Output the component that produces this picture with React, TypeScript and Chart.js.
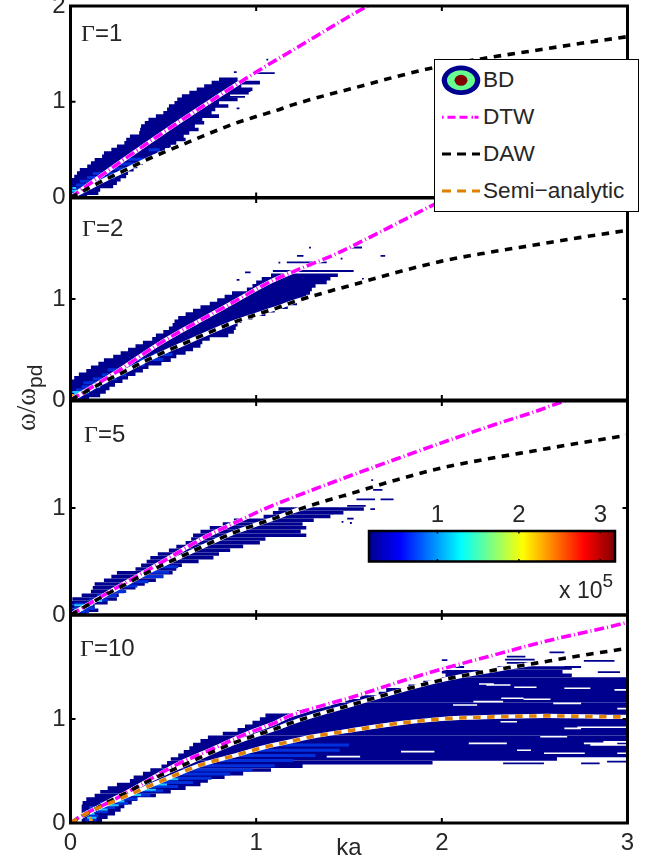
import React, { useEffect, useRef } from "react";
import { Chart, registerables } from "chart.js";

Chart.register(...registerables);

const NAVY = "#00008f";
const MID = "#0030dc";
const CYAN = "#19c8ff";
const HOT = "#ff9a00";
const MAGENTA = "#ff00ff";
const ORANGE = "#e08000";
const INK = "#262626";
const SANS = "'Liberation Sans', Arial, sans-serif";
const SERIF = "'Liberation Serif', 'DejaVu Serif', serif";

// Curves
const dawKa = [0, 0.1, 0.2, 0.3, 0.4, 0.52, 0.6, 0.716, 0.8, 0.88, 1, 1.11, 1.2, 1.4, 1.5, 1.75, 2, 2.25, 2.5, 2.75, 3];
const dawW = [0, 0.1, 0.2, 0.29, 0.385, 0.487, 0.55, 0.644, 0.71, 0.77, 0.845, 0.91, 0.97, 1.08, 1.13, 1.26, 1.375, 1.46, 1.535, 1.61, 1.68];
const dtw1Ka = [0, 0.25, 0.5, 0.75, 1, 1.25, 1.5, 1.6, 1.66];
const dtw1W = [0, 0.345, 0.68, 1.0, 1.31, 1.6, 1.89, 2.0, 2.06];
const dtw2Ka = [0, 0.25, 0.48, 0.7, 0.878, 1.058, 1.237, 1.417, 1.6, 1.76, 1.975, 2.1];
const dtw2W = [0, 0.28, 0.56, 0.79, 0.97, 1.155, 1.3, 1.436, 1.6, 1.75, 1.95, 2.05];
const dtw3Ka = [0, 0.213, 0.483, 0.716, 0.896, 1.057, 1.237, 1.435, 1.615, 1.79, 1.87, 2.25, 2.5, 2.66, 2.75];
const dtw3W = [0, 0.22, 0.485, 0.72, 0.872, 1.0, 1.125, 1.255, 1.37, 1.48, 1.53, 1.76, 1.9, 2.0, 2.05];
const dtw4Ka = [0, 0.05, 0.23, 0.39, 0.57, 0.75, 0.93, 1.11, 1.18, 1.3, 1.506, 1.776, 2, 2.28, 2.565, 2.98, 3];
const dtw4W = [0, 0.06, 0.22, 0.38, 0.56, 0.7, 0.845, 0.97, 1.03, 1.1, 1.205, 1.36, 1.48, 1.615, 1.75, 1.92, 1.93];
const semiKa = [0, 0.105, 0.23, 0.384, 0.536, 0.7, 0.88, 1.04, 1.18, 1.3, 1.5, 1.776, 2, 2.28, 2.565, 2.98, 3];
const semiW = [0, 0.11, 0.205, 0.324, 0.44, 0.558, 0.647, 0.727, 0.782, 0.83, 0.887, 0.96, 1.0, 1.02, 1.03, 1.02, 1.02];

// BD intensity rows, panel Γ=1
const p1Levels = [0.01, 0.045, 0.08, 0.115, 0.15, 0.185, 0.22, 0.255, 0.29, 0.325, 0.36, 0.395, 0.43, 0.465, 0.5, 0.535, 0.57, 0.605, 0.64, 0.675, 0.71, 0.745, 0.78, 0.815, 0.85, 0.885, 0.92, 0.955, 0.99, 1.025, 1.06, 1.095, 1.13, 1.165, 1.2, 1.235];
const p1Left = [0, 0, 0, 0, 0, 0.005, 0.02, 0.035, 0.05, 0.09, 0.11, 0.13, 0.17, 0.18, 0.22, 0.25, 0.29, 0.3, 0.32, 0.37, 0.375, 0.38, 0.4, 0.42, 0.46, 0.5, 0.52, 0.53, 0.56, 0.575, 0.6, 0.64, 0.68, 0.72, 0.76, 0.8];
const p1Right = [0.09, 0.15, 0.16, 0.23, 0.25, 0.27, 0.3, 0.31, 0.34, 0.36, 0.39, 0.4, 0.44, 0.47, 0.51, 0.54, 0.57, 0.62, 0.61, 0.64, 0.69, 0.67, 0.72, 0.71, 0.8, 0.76, 0.78, 0.85, 0.8, 0.9, 0.86, 0.96, 0.98, 0.92, 1.02, 0.9];
const p1Extra = [[1.31, 0.88, 0.895], [1.3, 0.985, 1.1], [1.44, 1.055, 1.065], [0.93, 0.895, 0.91], [1.197, 0.97, 1.02], [1.11, 0.88, 0.97], [1.05, 0.84, 0.94]];
const p1Mid = [[0.05, 0.01, 0.07], [0.09, 0.02, 0.09], [0.13, 0.03, 0.13], [0.17, 0.05, 0.16], [0.21, 0.09, 0.24], [0.25, 0.12, 0.27], [0.3, 0.2, 0.3], [0.35, 0.25, 0.35], [0.4, 0.3, 0.4], [0.5, 0.42, 0.48]];
const p1Cyan = [[0.04, 0.005, 0.04], [0.07, 0.005, 0.05], [0.1, 0.01, 0.03]];
const p1Hot = [[0.025, 0.005, 0.03]];

// Panel Γ=2
const p2Levels = p1Levels;
const p2Left = [0, 0, 0, 0, 0, 0.005, 0.02, 0.045, 0.085, 0.11, 0.15, 0.18, 0.23, 0.27, 0.31, 0.35, 0.39, 0.44, 0.46, 0.5, 0.53, 0.55, 0.56, 0.58, 0.62, 0.66, 0.7, 0.75, 0.79, 0.83, 0.87, 0.95, 0.98, 1.0, 1.03, 1.08];
const p2Right = [0.1, 0.16, 0.19, 0.21, 0.24, 0.28, 0.31, 0.35, 0.39, 0.42, 0.49, 0.54, 0.57, 0.62, 0.66, 0.7, 0.71, 0.75, 0.85, 0.88, 0.89, 0.9, 0.92, 0.98, 1.05, 1.1, 1.17, 1.22, 1.24, 1.27, 1.29, 1.3, 1.32, 1.38, 1.4, 1.44];
const p2Extra = [[1.277, 1.09, 1.525], [1.363, 1.165, 1.38], [1.426, 1.22, 1.255], [1.51, 1.49, 1.57], [1.426, 1.67, 1.695], [1.508, 1.285, 1.295], [1.2, 1.57, 1.58], [1.19, 0.895, 0.91], [1.264, 0.94, 0.97], [1.36, 1.12, 1.13], [1.4, 1.455, 1.465]];
const p2Mid = [[0.03, 0.01, 0.06], [0.07, 0.02, 0.1], [0.1, 0.03, 0.12], [0.13, 0.06, 0.16], [0.17, 0.07, 0.2], [0.21, 0.12, 0.25], [0.25, 0.17, 0.3], [0.3, 0.2, 0.33], [0.35, 0.3, 0.4], [0.4, 0.36, 0.5], [0.45, 0.45, 0.55]];
const p2Cyan = [[0.08, 0.01, 0.1], [0.13, 0.1, 0.16], [0.06, 0.02, 0.07]];
const p2Hot = [[0.03, 0.005, 0.03], [0.05, 0.005, 0.02]];

// Panel Γ=5
const p3Levels = [0.01, 0.045, 0.08, 0.115, 0.15, 0.185, 0.22, 0.255, 0.29, 0.325, 0.36, 0.395, 0.43, 0.465, 0.5, 0.535, 0.57, 0.605, 0.64, 0.675, 0.71, 0.745, 0.78, 0.815, 0.85, 0.885, 0.92, 0.955, 0.99];
const p3Left = [0, 0, 0, 0, 0.01, 0.06, 0.11, 0.12, 0.13, 0.18, 0.22, 0.25, 0.35, 0.38, 0.41, 0.43, 0.47, 0.53, 0.57, 0.62, 0.65, 0.66, 0.7, 0.75, 0.82, 0.88, 1.04, 1.09, 1.12];
const p3Right = [0.09, 0.15, 0.13, 0.2, 0.25, 0.26, 0.29, 0.35, 0.4, 0.46, 0.5, 0.55, 0.57, 0.6, 0.69, 0.77, 0.8, 0.86, 0.93, 1.02, 1.05, 1.27, 1.24, 1.27, 1.25, 1.31, 1.4, 1.47, 1.58];
const p3Extra = [[1.08, 1.54, 1.64], [1.08, 1.67, 1.74], [1.17, 1.63, 1.68], [1.26, 1.62, 1.63], [0.9, 1.49, 1.525], [0.87, 1.46, 1.47], [0.86, 1.505, 1.515], [0.95, 1.4, 1.42], [1.11, 1.435, 1.49], [1.02, 1.49, 1.59], [0.99, 1.615, 1.64]];
const p3Mid = [[0.03, 0.01, 0.1], [0.06, 0.02, 0.13], [0.1, 0.02, 0.1], [0.14, 0.1, 0.2], [0.18, 0.14, 0.25], [0.22, 0.2, 0.3], [0.27, 0.25, 0.36], [0.31, 0.33, 0.42], [0.36, 0.35, 0.5], [0.4, 0.4, 0.53], [0.45, 0.5, 0.58]];
const p3Cyan = [[0.05, 0.02, 0.07], [0.09, 0.02, 0.12], [0.13, 0.13, 0.17]];
const p3Hot = [[0.05, 0.03, 0.04]];

// Panel Γ=10
const p4Levels = [0.02, 0.055, 0.09, 0.125, 0.16, 0.195, 0.23, 0.265, 0.3, 0.335, 0.37, 0.405, 0.44, 0.475, 0.51, 0.545, 0.58, 0.615, 0.65, 0.685, 0.72, 0.755, 0.79, 0.825, 0.86, 0.895, 0.93, 0.965, 1.0, 1.035, 1.07, 1.105, 1.14, 1.175, 1.21, 1.245, 1.28, 1.315, 1.35, 1.385, 1.42, 1.455, 1.49];
const p4Left = [0.06, 0.06, 0.06, 0.06, 0.06, 0.065, 0.085, 0.13, 0.16, 0.2, 0.25, 0.32, 0.34, 0.39, 0.43, 0.49, 0.52, 0.54, 0.58, 0.61, 0.64, 0.66, 0.7, 0.74, 0.82, 0.9, 0.94, 0.98, 1.02, 1.05, 1.22, 1.3, 1.4, 1.48, 1.56, 1.66, 1.7, 1.82, 1.9, 2.0, 2.02, 2.0, 2.3];
const p4Right = [0.17, 0.2, 0.24, 0.27, 0.29, 0.33, 0.36, 0.46, 0.54, 0.62, 0.7, 0.74, 0.83, 0.93, 1.08, 1.25, 1.95, 2.62, 3, 3, 3, 3, 3, 3, 3, 3, 3, 3, 3, 3, 3, 3, 3, 3, 3, 3, 3, 3, 3, 3, 2.7, 2.65, 2.7];
const p4Extra = [[0.574, 2.33, 2.55], [0.574, 2.75, 2.85], [0.59, 2.89, 3], [1.57, 2.34, 2.5], [1.6, 2.35, 2.45], [1.64, 2.58, 2.66], [1.54, 2.35, 2.49], [1.558, 2.765, 2.93], [1.5, 2.66, 2.75], [1.45, 2.84, 2.96], [1.567, 2.0, 2.03], [1.5, 2.01, 2.12]];
const p4Mid = [[0.03, 0.08, 0.14], [0.07, 0.07, 0.15], [0.11, 0.08, 0.2], [0.15, 0.1, 0.24], [0.19, 0.16, 0.31], [0.23, 0.24, 0.36], [0.27, 0.3, 0.43], [0.31, 0.35, 0.5], [0.35, 0.4, 0.58], [0.39, 0.46, 0.66], [0.43, 0.52, 0.76], [0.47, 0.58, 0.86], [0.51, 0.64, 0.98], [0.55, 0.7, 1.1], [0.6, 0.8, 1.2], [0.65, 0.9, 1.32], [0.7, 1.0, 1.45], [0.75, 1.1, 1.5]];
const p4Cyan = [[0.05, 0.09, 0.14], [0.09, 0.08, 0.13], [0.13, 0.14, 0.2], [0.17, 0.2, 0.26], [0.21, 0.24, 0.29], [0.27, 0.33, 0.38], [0.32, 0.39, 0.46], [0.37, 0.45, 0.52], [0.42, 0.52, 0.58]];
const p4Hot = [[0.05, 0.1, 0.115], [0.03, 0.1, 0.12]];
const p4Gaps = [[0.686, 1.78, 1.96], [0.766, 2.145, 2.35], [0.67, 2.55, 2.77], [0.766, 2.765, 2.945], [0.91, 2.66, 2.75], [0.92, 2.73, 3], [1.15, 2.6, 2.75], [1.327, 2.24, 2.37], [1.305, 2.39, 2.51], [1.2, 2.32, 2.44], [1.19, 2.44, 2.585], [1.1, 2.945, 3], [0.78, 2.87, 3], [0.67, 2.945, 3], [0.75, 2.8, 3], [1.337, 2.2, 2.28], [0.638, 1.38, 1.56], [1.167, 2.17, 2.33], [1.135, 2.06, 2.19], [1.295, 2.66, 2.8], [1.28, 2.93, 3], [0.83, 2.53, 2.675], [0.974, 2.316, 2.405], [0.7, 2.405, 2.48]];

const xTicks = ["0", "1", "2", "3"];
const gammaLabels = ["1", "2", "5", "10"];
const colorStops = [0, 0.125, 0.375, 0.625, 0.875, 1];
const colorValues = ["#00008f", "#0000ff", "#00ffff", "#ffff00", "#ff0000", "#800000"];
const colorRange = [0.16, 3.18];
const legendNames = ["BD", "DTW", "DAW", "Semi\u2212analytic"];

const pts = (xs: number[], ys: number[]) => xs.map((x, i) => ({ x, y: ys[i] }));
const rows = (levels: number[], left: number[], right: number[]) =>
  levels.flatMap((y, i) => [{ x: left[i], y }, { x: right[i], y }, { x: NaN, y: NaN }]);
const bits = (list: number[][]) =>
  list.flatMap(([y, a, b]) => [{ x: a, y }, { x: b, y }, { x: NaN, y: NaN }]);

const frame = {
  id: "frame",
  afterDatasetsDraw(chart: any, _a: any, o: any) {
    const { ctx, chartArea: c, scales } = chart;
    ctx.save();
    ctx.strokeStyle = "#000";
    ctx.lineWidth = o.tickWidth;
    ctx.beginPath();
    const xs = scales.x;
    xs.ticks.forEach((t: any) => {
      const p = xs.getPixelForValue(t.value);
      ctx.moveTo(p, c.top);
      ctx.lineTo(p, c.top + o.tick);
      ctx.moveTo(p, c.bottom);
      ctx.lineTo(p, c.bottom - o.tick);
    });
    if (o.yTicks) {
      const ys = scales.y;
      ys.ticks.forEach((t: any) => {
        const p = ys.getPixelForValue(t.value);
        ctx.moveTo(c.left, p);
        ctx.lineTo(c.left + o.tick, p);
        ctx.moveTo(c.right, p);
        ctx.lineTo(c.right - o.tick, p);
      });
    }
    ctx.stroke();
    ctx.lineWidth = o.width;
    ctx.strokeRect(c.left, c.top, c.right - c.left, c.bottom - c.top);
    ctx.restore();
  },
};

const line = (data: any[], color: string, width: number, dash: number[] = []) => ({
  data,
  showLine: true,
  borderColor: color,
  backgroundColor: color,
  borderWidth: width,
  borderDash: dash,
  borderCapStyle: "butt",
  pointRadius: 0,
  fill: false,
  cubicInterpolationMode: "monotone",
});
const heat = (data: any[], color: string, width = 3.6) => ({
  data,
  showLine: true,
  borderColor: color,
  borderWidth: width,
  borderCapStyle: "butt",
  pointRadius: 0,
  fill: false,
  tension: 0,
  spanGaps: false,
});

const DASH_DTW = [10, 3, 1, 3];
const DASH_DAW = [7.5, 6.5];
const LINE_W = 3.6;
const HALO_W = 4.2;
const TICK_FONT = 24;

const panels = [
  { top: 6, bottom: 197.5, dtw: pts(dtw1Ka, dtw1W), levels: p1Levels, left: p1Left, right: p1Right, extra: p1Extra, mid: p1Mid, cyan: p1Cyan, hot: p1Hot, gaps: [] as number[][], semi: false, topTick: true },
  { top: 198, bottom: 400, dtw: pts(dtw2Ka, dtw2W), levels: p2Levels, left: p2Left, right: p2Right, extra: p2Extra, mid: p2Mid, cyan: p2Cyan, hot: p2Hot, gaps: [] as number[][], semi: false, topTick: false },
  { top: 401, bottom: 615, dtw: pts(dtw3Ka, dtw3W), levels: p3Levels, left: p3Left, right: p3Right, extra: p3Extra, mid: p3Mid, cyan: p3Cyan, hot: p3Hot, gaps: [] as number[][], semi: false, topTick: false },
  { top: 615, bottom: 823, dtw: pts(dtw4Ka, dtw4W), levels: p4Levels, left: p4Left, right: p4Right, extra: p4Extra, mid: p4Mid, cyan: p4Cyan, hot: p4Hot, gaps: p4Gaps, semi: true, topTick: false },
];

const gammaPos = [
  { x: 81, y: 21 },
  { x: 82, y: 216 },
  { x: 84, y: 422 },
  { x: 80, y: 636 },
];

const W = 658;
const H = 863;
const LEFT = 70.5;
const RIGHT = 627.5;

function Panel({ index }: { index: number }) {
  const ref = useRef<HTMLCanvasElement>(null);
  useEffect(() => {
    const p = panels[index];
    const last = index === 3;
    const xH = last ? 40 : 0;
    const daw = pts(dawKa, dawW);
    const semi = pts(semiKa, semiW);
    const datasets: any[] = [];
    if (p.semi) datasets.push(line(semi, ORANGE, LINE_W, DASH_DAW));
    datasets.push(line(daw, "#000000", LINE_W, DASH_DAW));
    datasets.push(line(p.dtw, MAGENTA, LINE_W, DASH_DTW));
    if (p.semi) datasets.push(line(semi, "#ffffff", HALO_W));
    datasets.push(line(daw, "#ffffff", HALO_W));
    datasets.push(line(p.dtw, "#ffffff", HALO_W));
    datasets.push(heat(bits(p.hot), HOT, 2));
    datasets.push(heat(bits(p.cyan), CYAN, 2));
    datasets.push(heat(bits(p.mid), MID, 3));
    if (p.gaps.length) datasets.push(heat(bits(p.gaps), "#ffffff", 1.6));
    datasets.push(heat(bits(p.extra), NAVY, 1.8));
    datasets.push(heat(rows(p.levels, p.left, p.right), NAVY));
    const chart = new Chart(ref.current!, {
      type: "scatter",
      data: { datasets },
      plugins: [frame],
      options: {
        responsive: false,
        animation: false,
        events: [],
        layout: {
          padding: { left: LEFT - 30, right: W - RIGHT, top: p.top, bottom: H - p.bottom - xH },
        },
        plugins: {
          legend: { display: false },
          tooltip: { enabled: false },
          frame: { tick: 5, tickWidth: 2, width: 3, yTicks: true },
        } as any,
        scales: {
          x: {
            type: "linear",
            min: 0,
            max: 3,
            grid: { display: false, drawTicks: false },
            border: { display: false },
            title: last
              ? { display: true, text: "ka", color: INK, font: { family: SANS, size: TICK_FONT }, padding: 0 }
              : { display: false },
            ticks: {
              display: last,
              stepSize: 1,
              color: INK,
              padding: 6,
              maxRotation: 0,
              autoSkip: false,
              font: { family: SANS, size: TICK_FONT },
              callback: (v: any) => xTicks[v] ?? "",
            },
            afterFit: (s: any) => {
              s.height = xH;
              s.paddingLeft = s.paddingRight = s.paddingTop = s.paddingBottom = 0;
            },
          },
          y: {
            type: "linear",
            min: 0,
            max: 2,
            grid: { display: false, drawTicks: false },
            border: { display: false },
            ticks: {
              stepSize: 1,
              color: INK,
              padding: 5,
              autoSkip: false,
              font: { family: SANS, size: TICK_FONT },
              callback: (v: any) => (v === 2 && !p.topTick ? "" : String(v)),
            },
            afterFit: (s: any) => {
              s.width = 30;
              s.paddingLeft = s.paddingRight = s.paddingTop = s.paddingBottom = 0;
            },
          },
        },
      } as any,
    });
    return () => chart.destroy();
  }, [index]);
  return <canvas ref={ref} width={W} height={H} style={{ position: "absolute", left: 0, top: 0 }} />;
}

function ColorBar() {
  const ref = useRef<HTMLCanvasElement>(null);
  useEffect(() => {
    const chart = new Chart(ref.current!, {
      type: "bar",
      data: {
        labels: ["BD"],
        datasets: [
          {
            data: [colorRange],
            barPercentage: 1,
            categoryPercentage: 1,
            backgroundColor: (c: any) => {
              const a = c.chart.chartArea;
              if (!a) return colorValues[0];
              const g = c.chart.ctx.createLinearGradient(a.left, 0, a.right, 0);
              colorStops.forEach((s, i) => g.addColorStop(s, colorValues[i]));
              return g;
            },
          },
        ],
      } as any,
      plugins: [frame],
      options: {
        indexAxis: "y",
        responsive: false,
        animation: false,
        events: [],
        layout: { padding: { left: 369, right: W - 615, top: 531 - 30, bottom: H - 561.5 } },
        plugins: {
          legend: { display: false },
          tooltip: { enabled: false },
          frame: { tick: 2.5, tickWidth: 1.5, width: 2.5, yTicks: false },
        } as any,
        scales: {
          x: {
            type: "linear",
            position: "top",
            min: colorRange[0],
            max: colorRange[1],
            grid: { display: false, drawTicks: false },
            border: { display: false },
            ticks: {
              stepSize: 1,
              includeBounds: false,
              color: INK,
              padding: 1,
              maxRotation: 0,
              autoSkip: false,
              font: { family: SANS, size: TICK_FONT },
            },
            afterFit: (s: any) => {
              s.height = 30;
              s.paddingLeft = s.paddingRight = s.paddingTop = s.paddingBottom = 0;
            },
          },
          y: { type: "category", display: false },
        },
      } as any,
    });
    return () => chart.destroy();
  }, []);
  return <canvas ref={ref} width={W} height={H} style={{ position: "absolute", left: 0, top: 0 }} />;
}

function Legend() {
  const rowY = [20.3, 57.3, 94, 131];
  return (
    <div
      style={{
        position: "absolute",
        left: 433.5,
        top: 58.5,
        width: 203.5,
        height: 151,
        border: "1.5px solid #000",
        background: "#fff",
        fontFamily: SANS,
        fontSize: 22.6,
        color: INK,
      }}
    >
      <svg width={60} height={151} style={{ position: "absolute", left: 0, top: 0 }}>
        <ellipse cx={26} cy={rowY[0]} rx={19.3} ry={14.7} fill={NAVY} />
        <ellipse cx={26} cy={rowY[0]} rx={14} ry={10} fill="#66ff90" />
        <ellipse cx={26} cy={rowY[0]} rx={6.5} ry={5.5} fill="#800000" />
        <line x1={7} x2={45} y1={rowY[1]} y2={rowY[1]} stroke={MAGENTA} strokeWidth={3} strokeDasharray="1.5 4 8 4 8 4 1.5" />
        <line x1={7} x2={45} y1={rowY[2]} y2={rowY[2]} stroke="#000" strokeWidth={3} strokeDasharray="9 6" />
        <line x1={7} x2={45} y1={rowY[3]} y2={rowY[3]} stroke={ORANGE} strokeWidth={3} strokeDasharray="9 6" />
      </svg>
      {legendNames.map((n, i) => (
        <span
          key={n}
          style={{ position: "absolute", left: 48.5, top: rowY[i] - 13, lineHeight: "26px", whiteSpace: "nowrap" }}
        >
          {n}
        </span>
      ))}
    </div>
  );
}

export default function App() {
  return (
    <div style={{ position: "absolute", left: 0, top: 0, width: W, height: H, overflow: "hidden", background: "#fff" }}>
      {panels.map((_, i) => (
        <Panel key={i} index={i} />
      ))}
      <ColorBar />
      {gammaPos.map((g, i) => (
        <span
          key={i}
          style={{
            position: "absolute",
            left: g.x,
            top: g.y,
            fontFamily: SANS,
            fontSize: 24,
            lineHeight: "24px",
            color: INK,
            whiteSpace: "nowrap",
          }}
        >
          <span style={{ fontFamily: SERIF }}>{"\u0393"}</span>={gammaLabels[i]}
        </span>
      ))}
      <div
        style={{
          position: "absolute",
          left: 13,
          top: 431,
          transform: "rotate(-90deg)",
          transformOrigin: "0 0",
          whiteSpace: "nowrap",
          fontFamily: SERIF,
          fontSize: 27,
          lineHeight: "27px",
          color: INK,
        }}
      >
        {"\u03c9/\u03c9"}
        <span style={{ fontFamily: SANS, fontSize: 21, position: "relative", top: 7 }}>pd</span>
      </div>
      <div
        style={{
          position: "absolute",
          left: 559,
          top: 577,
          fontFamily: SANS,
          fontSize: 23,
          lineHeight: "26px",
          color: INK,
          whiteSpace: "nowrap",
        }}
      >
        x 10<span style={{ fontSize: 19, position: "relative", top: -11 }}>5</span>
      </div>
      <Legend />
    </div>
  );
}
